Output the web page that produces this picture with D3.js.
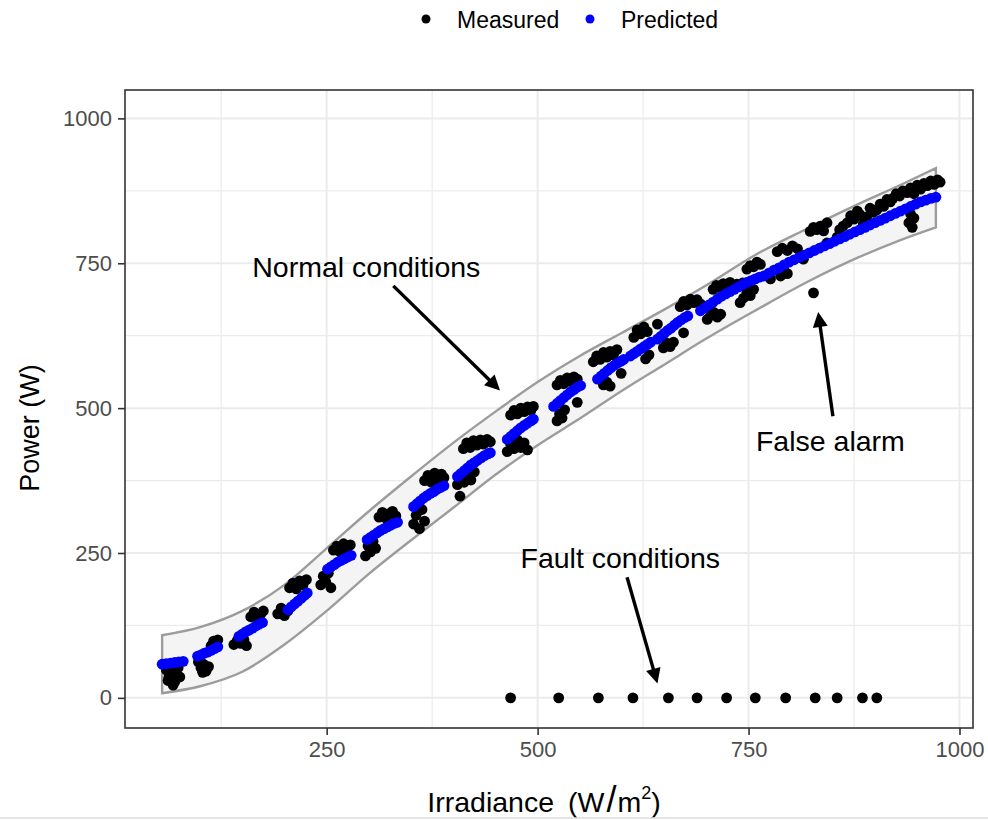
<!DOCTYPE html>
<html>
<head>
<meta charset="utf-8">
<title>Power vs irradiance</title>
<style>
  body { margin: 0; background: #fff; }
  text { font-family: "Liberation Sans", Arial, sans-serif; }
</style>
</head>
<body>
<svg width="988" height="820"></svg>
<script src="https://d3js.org/d3.v7.min.js"></script>
<script>

// ---------------- data ----------------
var xTicks = [250, 500, 750, 1000];
var yTicks = [0, 250, 500, 750, 1000];
var minorTicks = [125, 375, 625, 875];

var legendItems = ["Measured", "Predicted"];

// [irradiance, power]
var measured = [
  [62,30],[64,42],[66,55],[70,28],[72,40],[74,52],[76,36],[68,22],[60,48],[75,60],[63,35],
  [98,62],[101,52],[104,58],[107,46],[110,54],[113,90],[116,98],[119,92],[121,100],[103,44],
  [140,92],[144,99],[148,94],[152,100],[155,90],[160,140],[164,148],[168,136],[172,145],[175,150],
  [192,145],[196,155],[200,142],[204,150],[206,190],[210,198],[214,188],[218,202],[222,195],[226,204],
  [243,195],[246,210],[249,200],[252,215],[255,190],[258,255],[262,262],[266,252],[270,266],[274,258],[278,264],
  [296,245],[299,262],[302,252],[305,270],[308,258],[312,312],[316,320],[320,310],[324,318],[328,322],[332,314],
  [353,300],[356,315],[360,292],[363,325],[366,305],[366,375],[370,384],[374,372],[378,388],[382,378],[386,386],[389,380],
  [405,368],[409,380],[413,372],[417,388],[421,376],[425,390],[408,348],[412,430],[416,440],[420,432],[424,444],
  [428,436],[432,445],[436,438],[440,446],[444,442],
  [464,425],[468,438],[472,430],[476,445],[480,432],[484,440],[488,428],[468,488],[472,496],[476,490],[480,500],
  [484,494],[488,502],[492,496],[495,503],
  [523,540],[527,548],[531,542],[535,552],[539,546],[543,554],[547,550],[523,478],[526,490],[529,483],[532,497],[547,510],
  [566,580],[570,590],[574,584],[578,596],[582,588],[586,598],[590,592],[594,601],[578,540],[582,545],[586,538],[599,560],
  [614,622],[618,635],[622,628],[626,640],[630,632],[628,585],[632,592],
  [642,645],[649,604],[653,612],[657,606],[661,614],[669,675],[673,684],[677,678],[681,688],[685,682],[689,687],[693,680],[673,630],
  [701,653],[705,660],[709,665],[713,657],[717,662],[708,705],[712,712],[716,708],[720,715],[724,710],[728,717],[732,708],
  [736,714],[740,682],[744,690],[748,700],[752,694],[756,705],[748,740],[752,746],[756,744],[760,752],[764,748],[743,716],
  [776,723],[788,728],[792,738],[796,732],[784,770],[790,776],[796,772],[802,780],[808,775],[811,760],[815,757],
  [823,805],[827,812],[831,808],[835,814],[839,806],[843,820],[843,785],[855,795],[858,808],[862,814],[867,820],
  [871,832],[875,826],[879,840],[882,834],[886,818],[890,830],[894,845],[898,838],[902,842],[906,852],[910,848],
  [914,860],[918,856],[921,862],[925,870],[929,866],[933,875],[938,872],[942,880],[946,870],[950,885],[954,878],
  [958,888],[962,884],[966,892],[970,886],[974,894],[977,890],[940,820],[942,835],[944,812],[946,828],
  [827,699]
];

var predicted = [
  [55,58],[60,59],[65,60],[70,61],[75,62],[80,63],
  [97,72],[101,74],[105,77],[109,79],[113,82],[117,85],[121,88],
  [146,106],[150,110],[154,114],[158,117],[162,120],[166,124],[170,127],[174,130],
  [204,152],[208,157],[212,162],[216,167],[220,172],[224,177],[227,181],
  [251,222],[255,226],[259,230],[263,234],[267,237],[271,240],[275,243],[279,246],
  [298,273],[302,277],[306,281],[310,285],[314,289],[318,292],[322,295],[326,298],[330,301],[334,303],
  [353,330],[357,335],[361,340],[365,345],[369,349],[373,353],[377,356],[381,360],[385,363],[389,366],
  [405,382],[409,387],[413,392],[417,397],[421,402],[425,406],[429,410],[433,414],[437,418],[441,421],[444,423],
  [464,446],[468,451],[472,456],[476,461],[480,466],[484,470],[488,474],[492,478],[495,481],
  [519,503],[523,508],[527,513],[531,518],[535,523],[539,528],[543,532],[547,536],[551,539],
  [571,550],[575,555],[579,560],[583,565],[587,570],[591,574],[595,578],[599,581],[602,584],
  [610,590],[614,594],[618,598],[622,602],[626,606],[630,610],[634,614],
  [642,619],[646,624],[650,629],[654,634],[658,638],[662,643],[666,648],[670,652],[674,656],[678,659],
  [693,668],[698,673],[703,678],[708,683],[713,688],[718,693],[723,697],[728,701],[733,705],[738,709],
  [743,713],[748,717],[753,720],[758,723],[763,726],
  [768,728],[774,733],[780,738],[786,742],[792,747],[798,752],[804,756],[810,760],[816,764],[822,768],
  [828,772],[834,776],[840,780],[846,784],[852,788],[858,792],[864,796],[870,800],[876,804],[882,808],
  [888,812],[894,816],[900,820],[906,824],[912,828],[918,832],[924,836],[930,840],[936,844],[942,848],
  [948,852],[954,856],[960,859],[966,862],[972,864]
];

// power = 0 while irradiance is present
var faultIrr = [468, 525, 572, 613, 655, 689, 724, 758, 794, 829, 855, 885, 902];

// prediction band: irradiance, lower and upper power
var bandIrr   = [55, 100, 150, 200, 250, 300, 350, 400, 450, 500, 550, 600, 650, 700, 760, 820, 880, 930, 972];
var bandUpper = [108, 122, 150, 195, 258, 322, 382, 440, 494, 545, 590, 630, 670, 712, 766, 810, 852, 885, 914];
var bandLower = [8, 20, 45, 92, 150, 214, 272, 328, 385, 436, 482, 530, 575, 620, 670, 718, 760, 790, 812];

// annotations: label at (tx,ty), arrow from (x1,y1) to (x2,y2), all in data units
var notes = [
  {label: "Normal conditions", tx: 297, ty: 743, x1: 329, y1: 711, x2: 458, y2: 527},
  {label: "False alarm",       tx: 847, ty: 444, x1: 850, y1: 486, x2: 832, y2: 671},
  {label: "Fault conditions",  tx: 598, ty: 242, x1: 606, y1: 208, x2: 643, y2: 20}
];

// ---------------- chart ----------------
var svg = d3.select("svg");
var pLeft = 125, pRight = 973, pTop = 90, pBottom = 728;

var x = d3.scaleLinear().domain([11, 1016]).range([pLeft, pRight]);
var y = d3.scaleLinear().domain([-52, 1049]).range([pBottom, pTop]);

// panel background
svg.append("rect")
  .attr("x", pLeft).attr("y", pTop)
  .attr("width", pRight - pLeft).attr("height", pBottom - pTop)
  .attr("fill", "#fff");

// grid
var grid = svg.append("g").attr("stroke", "#ebebeb");
grid.selectAll(".vmin").data(minorTicks).enter().append("line")
  .attr("x1", d => x(d)).attr("x2", d => x(d)).attr("y1", pTop).attr("y2", pBottom)
  .attr("stroke-width", 1.2);
grid.selectAll(".hmin").data(minorTicks).enter().append("line")
  .attr("y1", d => y(d)).attr("y2", d => y(d)).attr("x1", pLeft).attr("x2", pRight)
  .attr("stroke-width", 1.2);
grid.selectAll(".vmaj").data(xTicks).enter().append("line")
  .attr("x1", d => x(d)).attr("x2", d => x(d)).attr("y1", pTop).attr("y2", pBottom)
  .attr("stroke-width", 2);
grid.selectAll(".hmaj").data(yTicks).enter().append("line")
  .attr("y1", d => y(d)).attr("y2", d => y(d)).attr("x1", pLeft).attr("x2", pRight)
  .attr("stroke-width", 2);

// band
var band = d3.area()
  .x((d, i) => x(bandIrr[i]))
  .y0((d, i) => y(bandLower[i]))
  .y1((d, i) => y(bandUpper[i]))
  .curve(d3.curveMonotoneX);
svg.append("path")
  .datum(bandIrr)
  .attr("d", band)
  .attr("fill", "#f4f4f4")
  .attr("stroke", "#9c9c9c")
  .attr("stroke-width", 2.4);

// measured points
svg.append("g").selectAll("circle")
  .data(measured).enter().append("circle")
  .attr("cx", d => x(d[0])).attr("cy", d => y(d[1]))
  .attr("r", 5.4).attr("fill", "#000");

// predicted points
svg.append("g").selectAll("circle")
  .data(predicted).enter().append("circle")
  .attr("cx", d => x(d[0])).attr("cy", d => y(d[1]))
  .attr("r", 5.4).attr("fill", "#0000ff");

// fault points
svg.append("g").selectAll("circle")
  .data(faultIrr).enter().append("circle")
  .attr("cx", d => x(d)).attr("cy", y(0))
  .attr("r", 5.4).attr("fill", "#000");

// arrows
svg.append("defs").append("marker")
  .attr("id", "head")
  .attr("viewBox", "0 0 10 10")
  .attr("refX", 2).attr("refY", 5)
  .attr("markerWidth", 19).attr("markerHeight", 15)
  .attr("markerUnits", "userSpaceOnUse")
  .attr("orient", "auto")
  .append("path").attr("d", "M0,0 L10,5 L0,10 Z").attr("fill", "#000");

notes.forEach(n => {
  var x1 = x(n.x1), y1 = y(n.y1), x2 = x(n.x2), y2 = y(n.y2);
  var len = Math.hypot(x2 - x1, y2 - y1), back = 15;
  svg.append("line")
    .attr("x1", x1).attr("y1", y1)
    .attr("x2", x2 - (x2 - x1) / len * back).attr("y2", y2 - (y2 - y1) / len * back)
    .attr("stroke", "#000").attr("stroke-width", 3.4)
    .attr("marker-end", "url(#head)");
  svg.append("text")
    .attr("x", x(n.tx)).attr("y", y(n.ty)).attr("dy", "0.35em")
    .attr("text-anchor", "middle")
    .attr("font-size", 28.5).attr("fill", "#000")
    .text(n.label);
});

// panel border
svg.append("rect")
  .attr("x", pLeft).attr("y", pTop)
  .attr("width", pRight - pLeft).attr("height", pBottom - pTop)
  .attr("fill", "none").attr("stroke", "#333").attr("stroke-width", 1.6);

// axes
var xAxis = svg.append("g")
  .attr("transform", "translate(0," + pBottom + ")")
  .call(d3.axisBottom(x).tickValues(xTicks).tickFormat(d3.format("d")).tickSize(7).tickPadding(6));
var yAxis = svg.append("g")
  .attr("transform", "translate(" + pLeft + ",0)")
  .call(d3.axisLeft(y).tickValues(yTicks).tickFormat(d3.format("d")).tickSize(7).tickPadding(6));
[xAxis, yAxis].forEach(a => {
  a.select(".domain").remove();
  a.selectAll(".tick line").attr("stroke", "#333").attr("stroke-width", 1.6);
  a.selectAll(".tick text").attr("fill", "#4d4d4d").attr("font-size", 22)
    .attr("font-family", "Liberation Sans, Arial, sans-serif");
});

// axis titles
svg.append("text")
  .attr("transform", "translate(39,428) rotate(-90)")
  .attr("text-anchor", "middle")
  .attr("font-size", 27).attr("fill", "#000")
  .text("Power (W)");

var xt = svg.append("text")
  .attr("x", 544).attr("y", 812)
  .attr("text-anchor", "middle")
  .attr("font-size", 28.5).attr("fill", "#000");
xt.append("tspan").text("Irradiance");
xt.append("tspan").attr("dx", 14).text("(W");
xt.append("tspan").attr("font-size", 36).attr("dx", 2).text("/");
xt.append("tspan").attr("dx", 1).text("m");
xt.append("tspan").attr("font-size", 18).attr("dy", -13).text("2");
xt.append("tspan").attr("dy", 13).text(")");

// legend
var legend = svg.append("g");
var legendX = [426, 590];
legendItems.forEach((name, i) => {
  legend.append("circle")
    .attr("cx", legendX[i]).attr("cy", 19).attr("r", 4.5)
    .attr("fill", i === 0 ? "#000" : "#0000ff");
  legend.append("text")
    .attr("x", legendX[i] + 31).attr("y", 28)
    .attr("font-size", 23).attr("fill", "#000")
    .text(name);
});

// bottom edge line of the screenshot
svg.append("line")
  .attr("x1", 0).attr("x2", 988).attr("y1", 818).attr("y2", 818)
  .attr("stroke", "#ddd").attr("stroke-width", 1.5);

</script>
</body>
</html>
